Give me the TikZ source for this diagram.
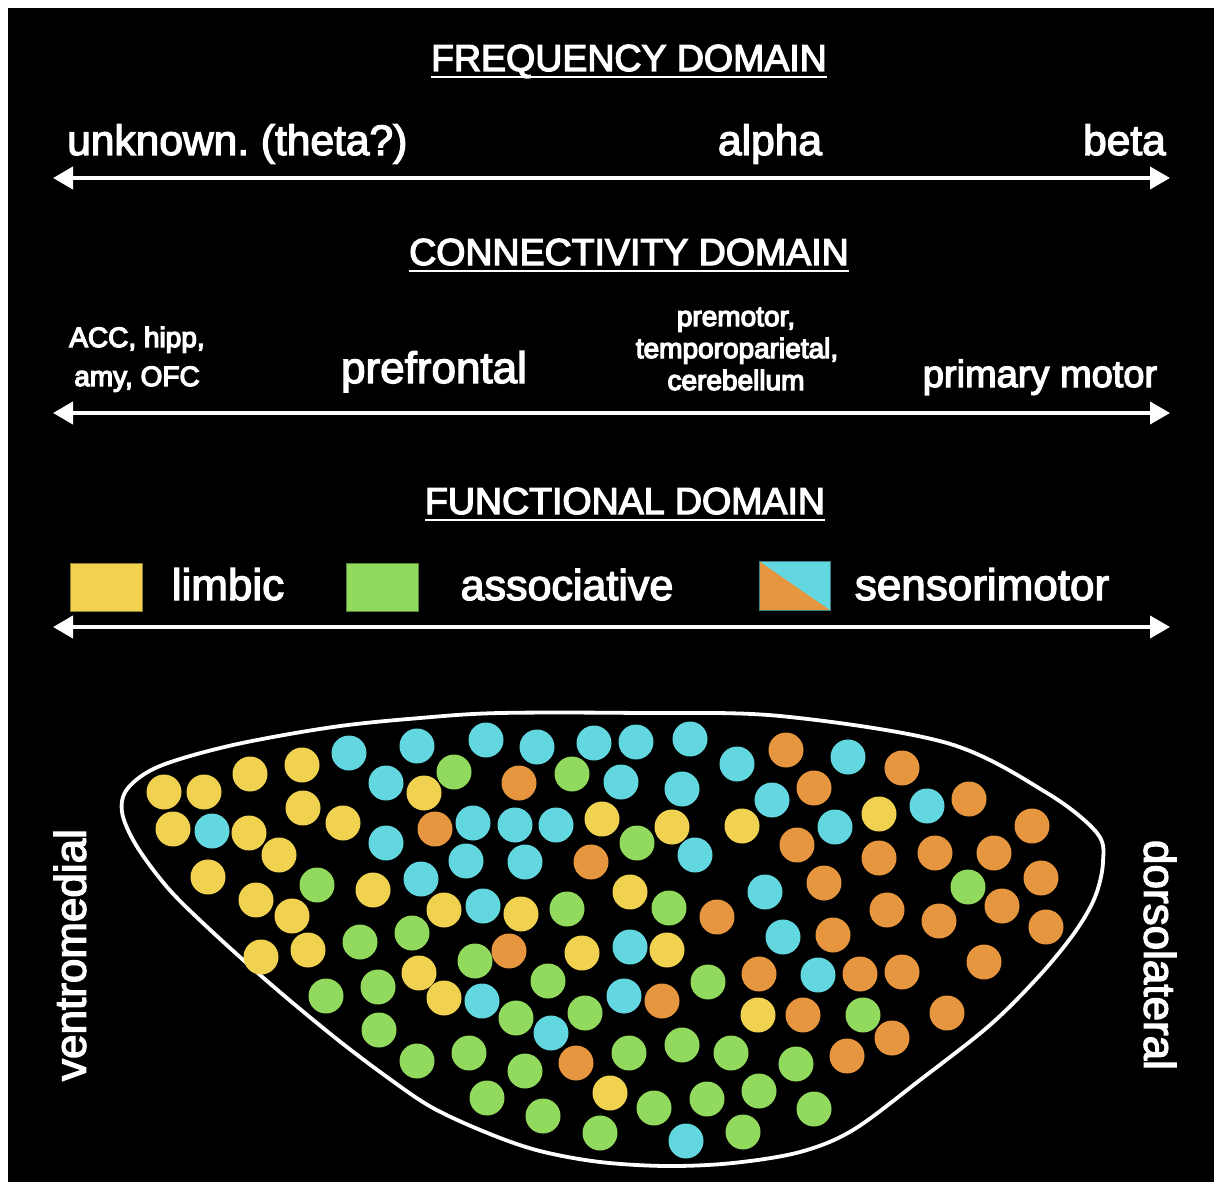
\documentclass[tikz,border=0pt]{standalone}
\usepackage{fontspec}
\usetikzlibrary{arrows.meta}
\newfontfamily\medfontfam{Liberation Sans}
\newcommand\emb{\special{pdf:literal direct 2 Tr 1.3 w 1 1 1 RG}}
\newcommand\medfont{\medfontfam\emb}
\definecolor{yel}{RGB}{240,210,80}
\definecolor{grn}{RGB}{146,218,94}
\definecolor{cyn}{RGB}{99,215,224}
\definecolor{org}{RGB}{230,150,62}
\frenchspacing
\tikzset{
  lab/.style={text=white, inner sep=0pt, anchor=base},
  head/.style={lab, font=\medfont\fontsize{37.5}{44}\selectfont},
  big/.style={lab, font=\medfont\fontsize{42.5}{48}\selectfont},
  small/.style={lab, font=\medfont\fontsize{28}{32}\selectfont},
  uline/.style={white, line width=1.6pt},
  axis/.style={white, line width=4pt, {Triangle[length=20pt,width=22pt]}-{Triangle[length=20pt,width=22pt]}},
}
\begin{document}
\begin{tikzpicture}[x=1pt,y=-1pt]
\useasboundingbox (0,0) rectangle (1214,1182);
\fill[white] (0,0) rectangle (1214,1182);
\fill[black] (8,8) rectangle (1214,1182);

% ---------- frequency domain
\node[head] (h1) at (629,71) {FREQUENCY DOMAIN};
\draw[uline] ([yshift=-6pt]h1.base west) -- ([yshift=-6pt]h1.base east);
\node[big, anchor=base west] (f1) at (67,155) {unknown. (theta?)};
\node[big] (f2) at (770,155) {alpha};
\node[big, anchor=base east] (f3) at (1166,155) {beta};
\coordinate (a1l) at (53,178);
\coordinate (a1r) at (1170,178);
\draw[axis] (a1l) -- (a1r);

% ---------- connectivity domain
\node[head] (h2) at (629,265) {CONNECTIVITY DOMAIN};
\draw[uline] ([yshift=-6pt]h2.base west) -- ([yshift=-6pt]h2.base east);
\node[small] (c1a) at (137,347) {ACC, hipp,};
\node[small] (c1b) at (137,386) {amy, OFC};
\node[big, font=\medfont\fontsize{44}{48}\selectfont] (c2) at (434,383) {prefrontal};
\node[small] (c3a) at (736,326) {premotor,};
\node[small] (c3b) at (737,358) {temporoparietal,};
\node[small] (c3c) at (736,390) {cerebellum};
\node[big, font=\medfont\fontsize{38}{44}\selectfont] (c4) at (1040,387) {primary motor};
\coordinate (a2l) at (53,413);
\coordinate (a2r) at (1170,413);
\draw[axis] (a2l) -- (a2r);

% ---------- functional domain
\node[head] (h3) at (625,514) {FUNCTIONAL DOMAIN};
\draw[uline] ([yshift=-6pt]h3.base west) -- ([yshift=-6pt]h3.base east);
\fill[yel, draw=yel!60!black, line width=0.8pt] (70,563) rectangle (142,611);
\fill[grn, draw=grn!60!black, line width=0.8pt] (346,563) rectangle (418,611);
\fill[org] (759,561) rectangle (830,610);
\fill[cyn] (759,561) -- (830,561) -- (830,610) -- cycle;
\draw[cyn!60!black, line width=0.8pt] (759,561) rectangle (830,610);
\node[big, font=\medfont\fontsize{44}{48}\selectfont] (l1) at (228,600) {limbic};
\node[big, font=\medfont\fontsize{43}{48}\selectfont] (l2) at (567,600) {associative};
\node[big, font=\medfont\fontsize{44}{48}\selectfont] (l3) at (982,600) {sensorimotor};
\coordinate (a3l) at (53,627);
\coordinate (a3r) at (1170,627);
\draw[axis] (a3l) -- (a3r);

% ---------- side labels
\node[lab, anchor=center, rotate=90, font=\medfont\fontsize{44}{48}\selectfont] (vm) at (70,955) {ventromedial};
\node[lab, anchor=center, rotate=-90, font=\medfont\fontsize{44}{48}\selectfont] (dl) at (1160,955) {dorsolateral};

% ---------- outline
\draw[white, line width=3.8pt] plot[smooth cycle, tension=0.55] coordinates {
 (500,713) (640,713) (780,716) (947,743) (1047,793) (1097,833) (1103,862)
 (1095,897) (1075,932) (1040,975) (990,1025) (920,1080) (853,1130) (800,1152)
 (733,1163) (667,1166) (600,1162) (540,1151) (490,1134) (433,1108) (387,1077)
 (333,1036) (267,981) (205,925) (167,887) (136,845) (122,812) (128,788)
 (160,766) (233,745) (333,727) (420,718)};

% ---------- dots
\foreach \x/\y in {164/792,204/792,250/774,302/765,424/793,173/829,249/833,303/808,343/823,279/855,208/877,373/890,256/900,292/916,444/910,261/957,308/950,419/973,444/998,602/819,672/827,742/826,879/814,630/892,521/914,582/953,667/950,758/1015,610/1093}
  \fill[yel] (\x,\y) circle (17.5);
\foreach \x/\y in {349/753,417/746,486/740,537/747,594/743,636/742,690/739,737/764,848/757,386/783,621/782,682/789,772/800,927/806,212/831,386/843,473/823,515/825,556/825,466/861,525/862,421/879,483/906,695/855,765/892,835/827,630/947,783/937,482/1001,624/996,818/975,551/1033,686/1141}
  \fill[cyn] (\x,\y) circle (17.5);
\foreach \x/\y in {454/772,572/774,317/885,637/843,360/942,412/933,567/909,669/908,475/961,326/996,378/987,548/981,708/982,516/1018,585/1013,379/1030,417/1061,469/1053,525/1071,487/1098,629/1053,682/1045,731/1053,796/1064,863/1015,968/887,543/1116,654/1108,707/1099,759/1091,814/1109,600/1133,743/1132}
  \fill[grn] (\x,\y) circle (17.5);
\foreach \x/\y in {786/750,902/768,519/783,814/788,969/799,435/829,797/845,879/858,935/853,994/853,1032/826,591/862,824/883,1041/878,887/910,939/921,1002/906,1046/927,717/917,833/935,984/962,509/951,662/1001,759/974,860/974,902/972,803/1015,892/1038,947/1013,576/1063,847/1056}
  \fill[org] (\x,\y) circle (17.5);
\end{tikzpicture}
\end{document}
